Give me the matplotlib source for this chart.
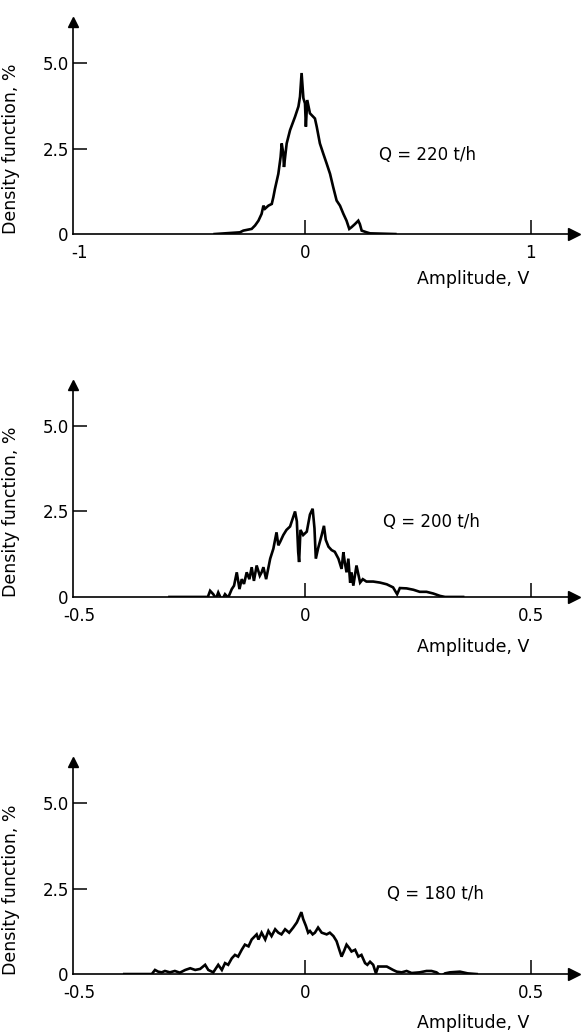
import numpy as np
import matplotlib.pyplot as plt

plt.rcParams['font.family'] = 'DejaVu Sans'
plt.rcParams['font.size'] = 12

# Q = 220 t/h  (amplitude in V, density in %)
amp_220 = [-0.40, -0.288, -0.273, -0.236, -0.221, -0.206, -0.192, -0.184, -0.177, -0.162,
           -0.147, -0.140, -0.133, -0.118, -0.108, -0.103, -0.096, -0.093, -0.088, -0.081,
           -0.066, -0.044, -0.029, -0.022, -0.015, -0.007, 0.000, 0.004, 0.010, 0.022,
           0.044, 0.052, 0.066, 0.081, 0.096, 0.111, 0.125, 0.140, 0.155, 0.170,
           0.184, 0.196, 0.206, 0.221, 0.236, 0.243, 0.251, 0.273, 0.288, 0.345, 0.40]
dens_220 = [0.0, 0.05, 0.10, 0.15, 0.25, 0.39, 0.59, 0.83, 0.74, 0.83,
            0.88, 1.08, 1.32, 1.76, 2.25, 2.65, 2.35, 1.96, 2.25, 2.65,
            3.04, 3.43, 3.73, 4.02, 4.71, 3.97, 3.82, 3.14, 3.92, 3.53,
            3.38, 3.14, 2.65, 2.35, 2.06, 1.76, 1.37, 0.98, 0.83, 0.59,
            0.39, 0.15, 0.20, 0.29, 0.39, 0.29, 0.10, 0.05, 0.02, 0.01, 0.0]

# Q = 200 t/h
amp_200 = [-0.30, -0.215, -0.210, -0.203, -0.197, -0.192, -0.184, -0.177, -0.170, -0.162,
           -0.157, -0.151, -0.145, -0.140, -0.135, -0.129, -0.123, -0.118, -0.113, -0.107,
           -0.100, -0.096, -0.092, -0.086, -0.077, -0.070, -0.063, -0.059, -0.055, -0.048,
           -0.041, -0.033, -0.022, -0.018, -0.015, -0.013, -0.010, -0.004, 0.004, 0.011,
           0.017, 0.021, 0.024, 0.029, 0.037, 0.042, 0.046, 0.052, 0.059, 0.066,
           0.074, 0.081, 0.085, 0.088, 0.092, 0.096, 0.100, 0.103, 0.107, 0.114,
           0.122, 0.128, 0.136, 0.151, 0.166, 0.181, 0.195, 0.204, 0.210, 0.225,
           0.240, 0.254, 0.269, 0.284, 0.299, 0.310, 0.35]
dens_200 = [0.0, 0.0, 0.18, 0.08, -0.05, 0.13, -0.10, 0.08, -0.02, 0.23,
            0.33, 0.72, 0.23, 0.52, 0.38, 0.72, 0.52, 0.87, 0.47, 0.92,
            0.62, 0.72, 0.87, 0.52, 1.12, 1.41, 1.89, 1.51, 1.61, 1.81,
            1.96, 2.06, 2.50, 2.21, 1.31, 1.02, 1.96, 1.81, 1.91, 2.41,
            2.58, 2.01, 1.12, 1.42, 1.81, 2.08, 1.67, 1.47, 1.37, 1.32,
            1.12, 0.82, 1.31, 1.02, 0.72, 1.12, 0.42, 0.72, 0.33, 0.92,
            0.42, 0.52, 0.45, 0.45, 0.42, 0.37, 0.28, 0.08, 0.26, 0.25,
            0.21, 0.15, 0.15, 0.10, 0.03, 0.0, 0.0]

# Q = 180 t/h
amp_180 = [-0.40, -0.339, -0.332, -0.325, -0.317, -0.310, -0.299, -0.288, -0.277, -0.265,
           -0.254, -0.243, -0.232, -0.221, -0.214, -0.203, -0.192, -0.184, -0.177, -0.170,
           -0.162, -0.155, -0.148, -0.140, -0.133, -0.125, -0.118, -0.107, -0.103, -0.096,
           -0.088, -0.081, -0.074, -0.066, -0.059, -0.052, -0.044, -0.035, -0.026, -0.018,
           -0.013, -0.008, -0.004, 0.002, 0.007, 0.011, 0.017, 0.022, 0.029, 0.037,
           0.048, 0.055, 0.063, 0.070, 0.076, 0.081, 0.086, 0.092, 0.098, 0.103,
           0.111, 0.118, 0.125, 0.133, 0.138, 0.144, 0.151, 0.157, 0.162, 0.170,
           0.181, 0.188, 0.195, 0.203, 0.214, 0.225, 0.236, 0.254, 0.269, 0.280,
           0.291, 0.302, 0.310, 0.321, 0.343, 0.360, 0.380]
dens_180 = [0.0, 0.0, 0.12, 0.07, 0.05, 0.09, 0.05, 0.09, 0.04, 0.12,
            0.17, 0.12, 0.15, 0.27, 0.12, 0.05, 0.27, 0.12, 0.32, 0.27,
            0.46, 0.56, 0.51, 0.71, 0.86, 0.81, 1.01, 1.16, 1.01, 1.21,
            1.01, 1.26, 1.11, 1.31, 1.21, 1.16, 1.31, 1.21, 1.36, 1.51,
            1.66, 1.81, 1.61, 1.41, 1.21, 1.26, 1.16, 1.21, 1.36, 1.21,
            1.16, 1.21, 1.11, 0.96, 0.71, 0.51, 0.66, 0.86, 0.76, 0.66,
            0.71, 0.51, 0.56, 0.32, 0.27, 0.36, 0.27, 0.02, 0.22, 0.22,
            0.22, 0.17, 0.12, 0.07, 0.05, 0.09, 0.03, 0.05, 0.09, 0.09,
            0.05, -0.06, 0.02, 0.05, 0.07, 0.02, 0.0]

labels_q = ['Q = 220 t/h', 'Q = 200 t/h', 'Q = 180 t/h']
y_ticks = [0, 2.5, 5.0]
y_ticklabels = ['0', '2.5', '5.0']
x_ticks_1 = [-1, 0, 1]
x_ticklabels_1 = ['-1', '0', '1']
x_ticks_2 = [-0.5, 0, 0.5]
x_ticklabels_2 = ['-0.5', '0', '0.5']

fig = plt.figure(figsize=(5.83, 10.36), dpi=100)

panels = [
    (amp_220, dens_220, labels_q[0], x_ticks_1, x_ticklabels_1, 0.7741, (0.327, 2.3), -0.17),
    (amp_200, dens_200, labels_q[1], x_ticks_2, x_ticklabels_2, 0.4238, (0.173, 2.2), -0.195),
    (amp_180, dens_180, labels_q[2], x_ticks_2, x_ticklabels_2, 0.0598, (0.181, 2.35), -0.19),
]

for amp, dens, qtxt, xt, xtl, bottom, qpos, xlab_y in panels:
    ax = fig.add_axes([0.1252, bottom, 0.859, 0.2046])
    span = xt[-1]
    ax.plot(amp, dens, color='black', lw=1.9, solid_joinstyle='miter')
    ax.set_xlim(-1.027 * span, 1.19 * span)
    ax.set_ylim(0, 6.2)

    for s in ['top', 'right']:
        ax.spines[s].set_visible(False)
    for s in ['left', 'bottom']:
        ax.spines[s].set_linewidth(1.2)
    # arrow heads at the axis ends
    ax.plot(1, 0, '>k', ms=8, transform=ax.get_yaxis_transform(), clip_on=False)
    ax.plot(0, 1, '^k', ms=7, transform=ax.transAxes, clip_on=False)

    ax.set_yticks(y_ticks)
    ax.set_yticklabels(y_ticklabels)
    ax.set_xticks(xt)
    ax.set_xticklabels(xtl)
    ax.tick_params(axis='y', direction='in', length=10, width=1.1, pad=3)
    ax.tick_params(axis='x', direction='in', length=10, width=1.1, pad=7)
    # leftmost x tick sits on the vertical axis, no separate mark
    ax.xaxis.get_major_ticks()[0].tick1line.set_visible(False)
    ax.yaxis.get_major_ticks()[0].tick1line.set_visible(False)

    ax.text(qpos[0], qpos[1], qtxt, ha='left', va='center', fontsize=12)
    ax.set_ylabel('Density function, %', fontsize=12.5)
    ax.yaxis.set_label_coords(-0.106, 0.40)
    ax.set_xlabel('Amplitude, V', fontsize=12.5)
    ax.xaxis.set_label_coords(0.80, xlab_y)

fig.savefig('out.png', dpi=100)
